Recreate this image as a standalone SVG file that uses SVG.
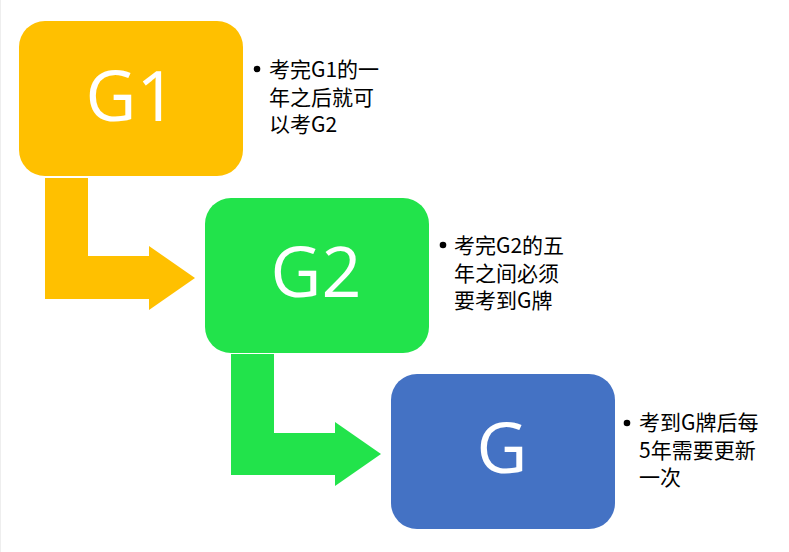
<svg xmlns="http://www.w3.org/2000/svg" width="789" height="552" viewBox="0 0 789 552">
<style>
.big{font-family:"Open Sans","Noto Sans",sans-serif;font-size:70px;fill:#ffffff;text-anchor:middle}
.note{font-family:"Noto Sans CJK SC","Noto Sans",sans-serif;font-size:21px;fill:#000000}
.dot{fill:#000000}
</style>
<rect x="0" y="0" width="789" height="552" fill="#ffffff"/>
<line x1="0.5" y1="0" x2="0.5" y2="552" stroke="#eeeeee" stroke-width="1"/>
<g id="connectors">
<path id="arrow1" d="M45,178 H88 V256 H149 V246 L195,278 L149,310 V299 H45 Z" fill="#FFC000"/>
<path id="arrow2" d="M231,354 H274 V433 H335 V422 L381,454 L335,486 V475 H231 Z" fill="#22E34B"/>
</g>
<g id="node-g1">
<rect x="19" y="21" width="224" height="155" rx="26" fill="#FFC000"/>
<text class="big" x="131" y="121">G1</text>
</g>
<g id="node-g2">
<rect x="205" y="198" width="224" height="155" rx="26" fill="#22E34B"/>
<text class="big" x="316" y="297">G2</text>
</g>
<g id="node-g">
<rect x="391" y="374" width="224" height="155" rx="26" fill="#4472C4"/>
<text class="big" x="502" y="473">G</text>
</g>
<g id="note1">
<circle class="dot" cx="257" cy="69" r="3.3"/>
<text class="note" x="269" y="77">考完G1的一</text>
<text class="note" x="269" y="104.5">年之后就可</text>
<text class="note" x="269" y="132">以考G2</text>
</g>
<g id="note2">
<circle class="dot" cx="443" cy="245" r="3.3"/>
<text class="note" x="454" y="253">考完G2的五</text>
<text class="note" x="454" y="280.5">年之间必须</text>
<text class="note" x="454" y="308">要考到G牌</text>
</g>
<g id="note3">
<circle class="dot" cx="627" cy="423" r="3.3"/>
<text class="note" x="639" y="430">考到G牌后每</text>
<text class="note" x="639" y="457.5">5年需要更新</text>
<text class="note" x="639" y="485">一次</text>
</g>
</svg>
